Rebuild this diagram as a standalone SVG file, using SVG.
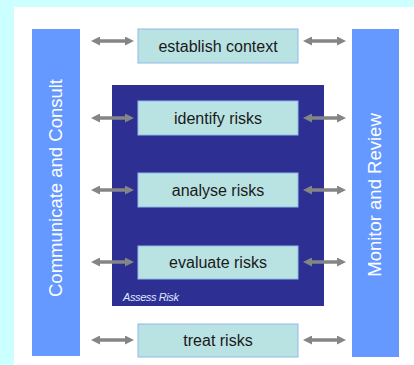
<svg xmlns="http://www.w3.org/2000/svg" width="414" height="365" viewBox="0 0 414 365">
<style>
.bar{fill:#6699ff}
.box{fill:#b9e2e3;stroke:#92b8e8;stroke-width:1}
.lbl{font-family:"Liberation Sans",Arial,sans-serif;font-size:16px;fill:#1a1a1a;text-anchor:middle}
.vlbl{font-family:"Liberation Sans",Arial,sans-serif;font-size:18.5px;fill:#ffffff;text-anchor:middle}
.arr{stroke:#858585;stroke-width:3.5;fill:none;marker-start:url(#ah);marker-end:url(#ah)}
</style>
<defs>
<marker id="ah" markerUnits="userSpaceOnUse" markerWidth="9" markerHeight="9" refX="5" refY="4.5" orient="auto-start-reverse" viewBox="0 0 9 9">
<path d="M0,0 L9,4.5 L0,9 z" fill="#858585"/>
</marker>
</defs>
<rect x="0" y="0" width="414" height="365" fill="#ccffff"/>
<rect x="14" y="7" width="400" height="358" fill="#ffffff"/>
<g id="communicate">
<rect class="bar" x="32" y="29" width="48" height="327"/>
<text class="vlbl" transform="translate(62,188) rotate(-90)">Communicate and Consult</text>
</g>
<g id="monitor">
<rect class="bar" x="352" y="29" width="47" height="328"/>
<text class="vlbl" transform="translate(381,195) rotate(-90)">Monitor and Review</text>
</g>
<g id="assess">
<rect x="112" y="85" width="212" height="221" fill="#2d3092"/>
<text x="123" y="301" font-family="'Liberation Sans',Arial,sans-serif" font-size="11" font-style="italic" fill="#dfe6ff" letter-spacing="-0.4">Assess Risk</text>
</g>
<g id="establish">
<rect class="box" x="138" y="29" width="160" height="34"/>
<text class="lbl" x="218" y="52">establish context</text>
</g>
<g id="identify">
<rect class="box" x="138" y="101" width="160" height="34"/>
<text class="lbl" x="218" y="124">identify risks</text>
</g>
<g id="analyse">
<rect class="box" x="138" y="173" width="160" height="34"/>
<text class="lbl" x="218" y="196">analyse risks</text>
</g>
<g id="evaluate">
<rect class="box" x="138" y="246" width="160" height="33"/>
<text class="lbl" x="218" y="268">evaluate risks</text>
</g>
<g id="treat">
<rect class="box" x="138" y="324" width="160" height="33"/>
<text class="lbl" x="218" y="346">treat risks</text>
</g>
<g id="connectors">
<line class="arr" x1="95" y1="41" x2="130" y2="41"/>
<line class="arr" x1="307" y1="41" x2="342" y2="41"/>
<line class="arr" x1="95" y1="118" x2="130" y2="118"/>
<line class="arr" x1="307" y1="118" x2="342" y2="118"/>
<line class="arr" x1="95" y1="190" x2="130" y2="190"/>
<line class="arr" x1="307" y1="190" x2="342" y2="190"/>
<line class="arr" x1="95" y1="262" x2="130" y2="262"/>
<line class="arr" x1="307" y1="262" x2="342" y2="262"/>
<line class="arr" x1="95" y1="340" x2="130" y2="340"/>
<line class="arr" x1="307" y1="340" x2="342" y2="340"/>
</g>
</svg>
